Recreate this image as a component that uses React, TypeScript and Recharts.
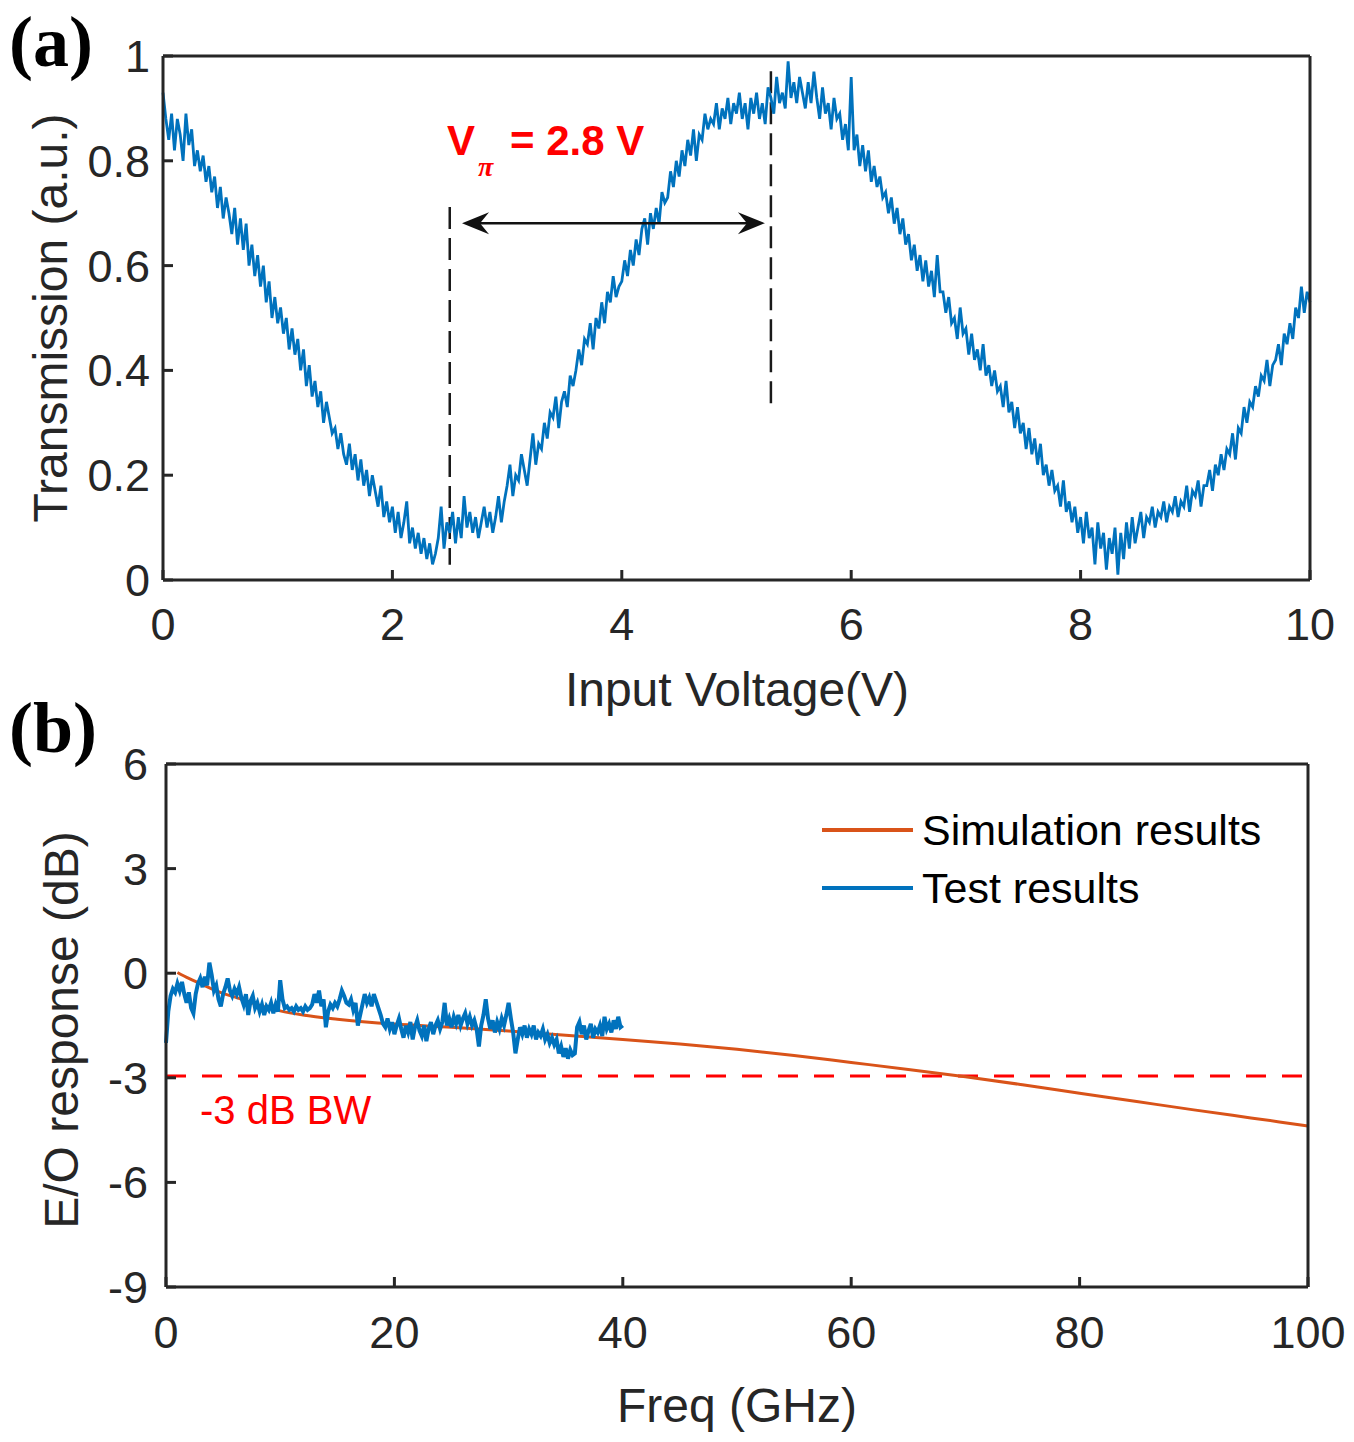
import React from 'react';
import { LineChart, Line, XAxis, YAxis, ReferenceLine, ReferenceDot, Legend, Label } from 'recharts';

// ---------- Panel (a): transmission vs input voltage ----------
const V_START = 0;
const V_STEP = 0.025;
const V_TICKS = [0, 2, 4, 6, 8, 10];
const T_TICKS = [0, 0.2, 0.4, 0.6, 0.8, 1];
const TRANSMISSION = [
  0.93, 0.88, 0.84, 0.89, 0.82, 0.88, 0.85, 0.80, 0.89, 0.83, 0.86, 0.79, 0.82, 0.78, 0.81, 0.76, 0.79, 0.74, 0.77, 0.71,
  0.75, 0.69, 0.73, 0.70, 0.66, 0.71, 0.64, 0.69, 0.63, 0.68, 0.60, 0.64, 0.58, 0.62, 0.56, 0.60, 0.53, 0.57, 0.50, 0.54,
  0.49, 0.52, 0.47, 0.50, 0.44, 0.48, 0.43, 0.46, 0.40, 0.44, 0.37, 0.41, 0.35, 0.38, 0.33, 0.36, 0.30, 0.34, 0.31, 0.28,
  0.29, 0.25, 0.28, 0.24, 0.22, 0.26, 0.21, 0.24, 0.19, 0.23, 0.18, 0.21, 0.16, 0.20, 0.17, 0.14, 0.18, 0.12, 0.15, 0.11,
  0.14, 0.09, 0.13, 0.08, 0.11, 0.15, 0.07, 0.10, 0.06, 0.09, 0.05, 0.08, 0.04, 0.07, 0.03, 0.05, 0.08, 0.14, 0.06, 0.11,
  0.09, 0.13, 0.07, 0.12, 0.08, 0.16, 0.10, 0.13, 0.09, 0.12, 0.08, 0.11, 0.14, 0.10, 0.13, 0.09, 0.12, 0.16, 0.11, 0.15,
  0.18, 0.22, 0.16, 0.20, 0.19, 0.24, 0.21, 0.18, 0.23, 0.28, 0.22, 0.26, 0.25, 0.30, 0.27, 0.32, 0.31, 0.35, 0.29, 0.34,
  0.36, 0.33, 0.39, 0.37, 0.40, 0.44, 0.41, 0.46, 0.45, 0.49, 0.44, 0.50, 0.48, 0.53, 0.49, 0.55, 0.53, 0.58, 0.54, 0.56,
  0.57, 0.61, 0.58, 0.63, 0.60, 0.65, 0.62, 0.67, 0.69, 0.64, 0.70, 0.67, 0.71, 0.68, 0.74, 0.72, 0.73, 0.78, 0.75, 0.80,
  0.77, 0.82, 0.79, 0.84, 0.81, 0.86, 0.80, 0.85, 0.84, 0.89, 0.86, 0.88, 0.87, 0.91, 0.86, 0.90, 0.88, 0.92, 0.87, 0.91,
  0.89, 0.93, 0.88, 0.91, 0.86, 0.92, 0.89, 0.93, 0.88, 0.91, 0.87, 0.94, 0.92, 0.89, 0.96, 0.91, 0.93, 0.90, 0.99, 0.92,
  0.95, 0.91, 0.96, 0.93, 0.90, 0.95, 0.91, 0.97, 0.92, 0.88, 0.94, 0.89, 0.91, 0.86, 0.92, 0.88, 0.89, 0.84, 0.87, 0.82,
  0.96, 0.82, 0.85, 0.79, 0.83, 0.78, 0.82, 0.76, 0.79, 0.75, 0.77, 0.73, 0.74, 0.70, 0.73, 0.68, 0.71, 0.66, 0.69, 0.64,
  0.66, 0.61, 0.64, 0.59, 0.62, 0.57, 0.61, 0.56, 0.59, 0.54, 0.62, 0.55, 0.55, 0.51, 0.54, 0.49, 0.50, 0.46, 0.52, 0.47,
  0.48, 0.43, 0.47, 0.42, 0.44, 0.40, 0.45, 0.39, 0.41, 0.37, 0.40, 0.36, 0.37, 0.33, 0.38, 0.32, 0.34, 0.29, 0.33, 0.28,
  0.30, 0.25, 0.29, 0.24, 0.27, 0.22, 0.26, 0.20, 0.22, 0.18, 0.21, 0.17, 0.18, 0.14, 0.19, 0.13, 0.15, 0.11, 0.14, 0.09,
  0.12, 0.07, 0.13, 0.08, 0.10, 0.03, 0.11, 0.06, 0.09, 0.02, 0.08, 0.05, 0.10, 0.01, 0.09, 0.04, 0.11, 0.06, 0.12, 0.07,
  0.10, 0.13, 0.08, 0.12, 0.11, 0.14, 0.10, 0.13, 0.12, 0.15, 0.11, 0.14, 0.13, 0.16, 0.12, 0.15, 0.14, 0.18, 0.13, 0.17,
  0.16, 0.19, 0.14, 0.18, 0.18, 0.21, 0.17, 0.22, 0.20, 0.24, 0.21, 0.25, 0.24, 0.28, 0.23, 0.29, 0.28, 0.33, 0.30, 0.34,
  0.33, 0.37, 0.35, 0.39, 0.38, 0.42, 0.37, 0.41, 0.42, 0.45, 0.41, 0.47, 0.45, 0.49, 0.46, 0.52, 0.50, 0.56, 0.51, 0.55,
  0.53,
];
// V_pi annotation (volts / transmission)
const VPI_LEFT = 2.5;
const VPI_RIGHT = 5.3;
const VPI_LEFT_SPAN = [0.712, 0.029];
const VPI_RIGHT_SPAN = [0.971, 0.323];
const ARROW_X = [2.607, 5.248];
const ARROW_Y = 0.681;
const VPI_TEXT_AT = [2.476, 0.811];

// ---------- Panel (b): E/O response vs frequency ----------
const F_TICKS = [0, 20, 40, 60, 80, 100];
const DB_TICKS = [-9, -6, -3, 0, 3, 6];
const F_START = 0;
const F_STEP = 0.2;
const TEST_DB = [
  -2.0, -1.1, -0.65, -0.45, -0.55, -0.3, -0.5, -0.25, -0.6, -0.85,
  -0.55, -1.0, -1.15, -0.6, -0.3, -0.15, -0.4, -0.1, -0.35, 0.3,
  -0.05, -0.5, -0.35, -0.75, -0.95, -0.6, -0.4, -0.15, -0.5, -0.65,
  -0.45, -0.6, -0.4, -0.7, -0.9, -0.6, -1.2, -0.8, -0.65, -1.0,
  -0.85, -1.1, -0.9, -1.2, -0.95, -1.05, -0.85, -1.15, -0.9, -1.1,
  -0.2, -0.75, -1.0, -0.95, -1.05, -1.0, -1.1, -0.95, -1.05, -1.0,
  -1.1, -0.95, -1.05, -1.0, -0.9, -0.6, -0.85, -0.5, -0.95, -0.75,
  -1.55, -1.1, -0.9, -1.0, -0.85, -0.95, -0.75, -0.5, -0.65, -0.85,
  -0.9, -0.75, -1.05, -0.85, -1.5, -1.2, -0.9, -0.6, -0.85, -0.7,
  -0.95, -0.6, -0.8, -1.0, -1.2, -1.45, -1.55, -1.3, -1.6, -1.4,
  -1.75, -1.5, -1.3, -1.6, -1.85, -1.5, -1.7, -1.4, -1.9, -1.55,
  -1.35, -1.65, -1.8, -1.5, -1.95, -1.6, -1.4, -1.75, -1.5, -1.35,
  -1.6, -1.4, -0.85, -1.5, -1.3, -1.55, -1.25, -1.45, -1.2, -1.5,
  -1.3, -1.15, -1.45, -1.25, -1.5, -1.35, -1.6, -2.1, -1.5, -1.2,
  -0.75, -1.3, -1.6, -1.35, -1.7, -1.4, -1.6, -1.3, -1.5, -1.2,
  -0.85, -1.3, -1.7, -2.3, -1.9, -1.55, -1.75, -1.5, -1.85, -1.6,
  -1.75, -1.5, -1.9, -1.7, -1.8, -1.6, -1.9, -1.75, -2.0, -1.85,
  -2.05, -1.9, -2.3, -2.1, -2.4, -2.15, -2.45, -2.2, -2.35, -2.3,
  -1.55, -1.4, -1.75, -1.5, -1.9, -1.65, -1.45, -1.85, -1.6, -1.7,
  -1.5, -1.8, -1.25, -1.6, -1.45, -1.7, -1.35, -1.6, -1.25, -1.55,
  -1.5,
];
const SIM_FREQ = [1, 2, 3, 4, 5, 6, 8, 10, 12, 15, 20, 25, 30, 35, 40, 45, 50, 55, 60, 65, 70, 75, 80, 85, 90, 95, 100];
const SIM_DB = [0.02, -0.15, -0.3, -0.45, -0.58, -0.68, -0.9, -1.08, -1.2, -1.32, -1.46, -1.55, -1.66, -1.78, -1.9, -2.03, -2.18, -2.36, -2.56, -2.76, -2.97, -3.2, -3.44, -3.68, -3.92, -4.15, -4.38];
const BW_LEVEL = -2.95;
const BW_TEXT_AT = [2.98, -4.335];

const SERIES_NAMES = ['Simulation results', 'Test results'];

// ---------- derived rows ----------
const transRows = TRANSMISSION.map((t, i) => ({ v: +(V_START + i * V_STEP).toFixed(3), t }));
const testRows = TEST_DB.map((db, i) => ({ f: +(F_START + i * F_STEP).toFixed(2), db }));
const simRows = SIM_FREQ.map((f, i) => ({ f, db: SIM_DB[i] }));

// ---------- styles ----------
const AXIS_COLOR = '#262626';
const BLUE = '#0072BD';
const ORANGE = '#D95319';
const RED = '#FF0000';
const SANS = '"Liberation Sans", Arial, Helvetica, sans-serif';
const SERIF = '"Liberation Serif", "Times New Roman", serif';
const tickStyle = { fontSize: 45, fill: AXIS_COLOR, fontFamily: SANS };
const lineStyle = { stroke: AXIS_COLOR, strokeWidth: 3 };

const ArrowShape = (p: any) => {
  const { x1, y1, x2, y2 } = p;
  const L = 27;
  const H = 11;
  const N = 18;
  return (
    <g>
      <line x1={x1 + 12} y1={y1} x2={x2 - 12} y2={y2} stroke="#111" strokeWidth={2.5} />
      <path d={`M${x1},${y1} L${x1 + L},${y1 - H} L${x1 + N},${y1} L${x1 + L},${y1 + H} Z`} fill="#111" />
      <path d={`M${x2},${y2} L${x2 - L},${y2 - H} L${x2 - N},${y2} L${x2 - L},${y2 + H} Z`} fill="#111" />
    </g>
  );
};

const VpiText = (p: any) => {
  const { x, y } = p.viewBox;
  return (
    <g fill={RED} fontFamily={SANS} fontWeight="bold">
      <text x={x} y={y} fontSize={42}>V</text>
      <text x={x + 31} y={y + 21} fontSize={28} fontStyle="italic" fontFamily={SERIF}>π</text>
      <text x={x + 63} y={y} fontSize={42}>= 2.8 V</text>
    </g>
  );
};

const BwText = (p: any) => {
  const { x, y } = p.viewBox;
  return (
    <text x={x} y={y} fontSize={40} fill={RED} fontFamily={SANS}>-3 dB BW</text>
  );
};

const xTitle = (text: string, cx: number, baseline: number) => () => (
  <text x={cx} y={baseline} textAnchor="middle" fontSize={48} fill={AXIS_COLOR} fontFamily={SANS}>{text}</text>
);
const yTitle = (text: string, bx: number, cy: number) => () => (
  <text x={bx} y={cy} transform={`rotate(-90, ${bx}, ${cy})`} textAnchor="middle" fontSize={48} fill={AXIS_COLOR} fontFamily={SANS}>{text}</text>
);

const LegendBox = () => (
  <svg width={470} height={130} style={{ overflow: 'visible' }}>
    <line x1={7} y1={40} x2={98} y2={40} stroke={ORANGE} strokeWidth={4} />
    <text x={107} y={55} fontSize={43} fill="#000" fontFamily={SANS}>{SERIES_NAMES[0]}</text>
    <line x1={7} y1={98} x2={98} y2={98} stroke={BLUE} strokeWidth={4} />
    <text x={107} y={113} fontSize={43} fill="#000" fontFamily={SANS}>{SERIES_NAMES[1]}</text>
  </svg>
);

const emptyFmt = () => '';

export default function App() {
  return (
    <div style={{ position: 'absolute', left: 0, top: 0, width: 1354, height: 1442, background: '#fff', overflow: 'hidden' }}>
      {/* Panel (a) */}
      <div style={{ position: 'absolute', left: 0, top: 0 }}>
        <LineChart width={1354} height={735} margin={{ top: 55, right: 43, left: 63, bottom: 55 }}>
          <XAxis xAxisId="x" dataKey="v" type="number" domain={[0, 10]} ticks={V_TICKS} interval={0}
            height={100} tickSize={-10} tickMargin={38} tick={tickStyle} axisLine={lineStyle} tickLine={lineStyle}>
            <Label content={xTitle('Input Voltage(V)', 737, 706)} />
          </XAxis>
          <XAxis xAxisId="top" orientation="top" type="number" domain={[0, 10]} ticks={V_TICKS} interval={0}
            height={1} tickSize={-10} tickFormatter={emptyFmt} axisLine={lineStyle} tickLine={lineStyle} />
          <YAxis yAxisId="y" type="number" domain={[0, 1]} ticks={T_TICKS} interval={0} width={100}
            tickSize={-10} tickMargin={23} tick={tickStyle} axisLine={lineStyle} tickLine={lineStyle}>
            <Label content={yTitle('Transmission (a.u.)', 67, 318)} />
          </YAxis>
          <YAxis yAxisId="right" orientation="right" type="number" domain={[0, 1]} ticks={T_TICKS} interval={0}
            width={1} tickSize={-10} tickFormatter={emptyFmt} axisLine={lineStyle} tickLine={lineStyle} />
          <ReferenceLine xAxisId="x" yAxisId="y"
            segment={[{ x: VPI_LEFT, y: VPI_LEFT_SPAN[0] }, { x: VPI_LEFT, y: VPI_LEFT_SPAN[1] }]}
            stroke="#1a1a1a" strokeWidth={2.5} strokeDasharray="22 9" />
          <ReferenceLine xAxisId="x" yAxisId="y"
            segment={[{ x: VPI_RIGHT, y: VPI_RIGHT_SPAN[0] }, { x: VPI_RIGHT, y: VPI_RIGHT_SPAN[1] }]}
            stroke="#1a1a1a" strokeWidth={2.5} strokeDasharray="22 9" />
          <Line xAxisId="x" yAxisId="y" data={transRows} dataKey="t" type="linear" stroke={BLUE}
            strokeWidth={2.8} dot={false} activeDot={false} isAnimationActive={false} />
          <ReferenceLine xAxisId="x" yAxisId="y"
            segment={[{ x: ARROW_X[0], y: ARROW_Y }, { x: ARROW_X[1], y: ARROW_Y }]}
            shape={ArrowShape} />
          <ReferenceDot xAxisId="x" yAxisId="y" x={VPI_TEXT_AT[0]} y={VPI_TEXT_AT[1]} r={0} fill="none" stroke="none">
            <Label content={VpiText} />
          </ReferenceDot>
        </LineChart>
      </div>

      {/* Panel (b) */}
      <div style={{ position: 'absolute', left: 0, top: 700 }}>
        <LineChart width={1354} height={742} margin={{ top: 63, right: 45, left: 66, bottom: 20 }}>
          <XAxis xAxisId="x" dataKey="f" type="number" domain={[0, 100]} ticks={F_TICKS} interval={0}
            height={135} tickSize={-10} tickMargin={39} tick={tickStyle} axisLine={lineStyle} tickLine={lineStyle}>
            <Label content={xTitle('Freq (GHz)', 737, 722)} />
          </XAxis>
          <XAxis xAxisId="top" orientation="top" type="number" domain={[0, 100]} ticks={F_TICKS} interval={0}
            height={1} tickSize={-10} tickFormatter={emptyFmt} axisLine={lineStyle} tickLine={lineStyle} />
          <YAxis yAxisId="y" type="number" domain={[-9, 6]} ticks={DB_TICKS} interval={0} width={100}
            tickSize={-10} tickMargin={28} tick={tickStyle} axisLine={lineStyle} tickLine={lineStyle}>
            <Label content={yTitle('E/O response (dB)', 78, 330)} />
          </YAxis>
          <YAxis yAxisId="right" orientation="right" type="number" domain={[-9, 6]} ticks={DB_TICKS} interval={0}
            width={1} tickSize={-10} tickFormatter={emptyFmt} axisLine={lineStyle} tickLine={lineStyle} />
          <ReferenceLine xAxisId="x" yAxisId="y" y={BW_LEVEL} stroke={RED} strokeWidth={3} strokeDasharray="20 16" />
          <Line xAxisId="x" yAxisId="y" data={simRows} dataKey="db" name={SERIES_NAMES[0]} type="monotone"
            stroke={ORANGE} strokeWidth={3} dot={false} activeDot={false} isAnimationActive={false} />
          <Line xAxisId="x" yAxisId="y" data={testRows} dataKey="db" name={SERIES_NAMES[1]} type="linear"
            stroke={BLUE} strokeWidth={4} dot={false} activeDot={false} isAnimationActive={false} />
          <ReferenceDot xAxisId="x" yAxisId="y" x={BW_TEXT_AT[0]} y={BW_TEXT_AT[1]} r={0} fill="none" stroke="none">
            <Label content={BwText} />
          </ReferenceDot>
          <Legend layout="horizontal" verticalAlign="middle" align="center" content={LegendBox}
            wrapperStyle={{ left: 815, top: 90, width: 470, height: 130 }} />
        </LineChart>
      </div>

      {/* Panel letters */}
      <svg width={1354} height={1442} style={{ position: 'absolute', left: 0, top: 0, pointerEvents: 'none' }}>
        <text x={9} y={66} fontSize={72} fontWeight="bold" fontFamily={SERIF} fill="#000">(a)</text>
        <text x={9} y={752} fontSize={72} fontWeight="bold" fontFamily={SERIF} fill="#000">(b)</text>
      </svg>
    </div>
  );
}
